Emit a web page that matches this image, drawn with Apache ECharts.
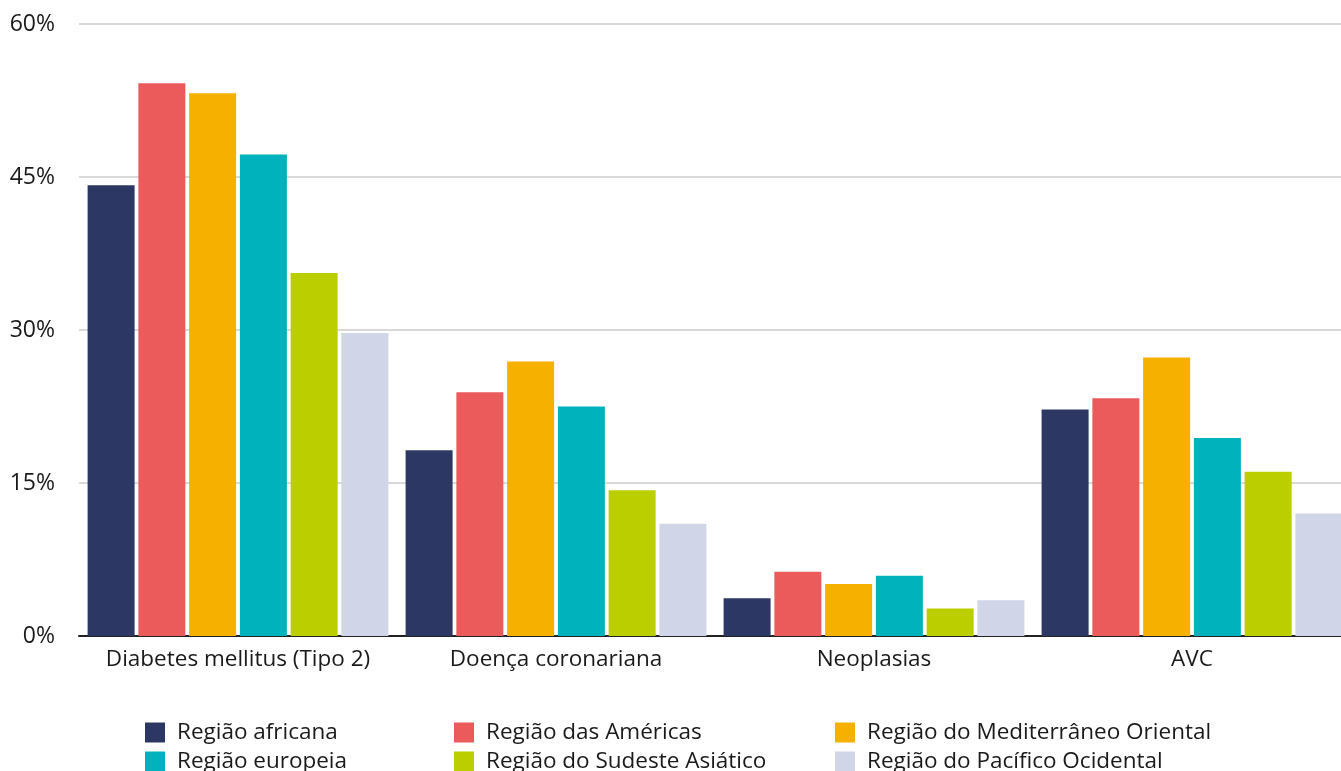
<!DOCTYPE html>
<html>
<head>
<meta charset="utf-8">
<script src="https://cdnjs.cloudflare.com/ajax/libs/echarts/6.0.0/echarts.min.js"></script>
<style>
  html, body { margin: 0; padding: 0; background: #fff; }
  #chart { width: 1341px; height: 771px; }
</style>
</head>
<body>
<div id="chart"></div>
<script>
// categorias e valores (%)
var categories = ['Diabetes mellitus (Tipo 2)', 'Doença coronariana', 'Neoplasias', 'AVC'];
var regions = [
  'Região africana',
  'Região das Américas',
  'Região do Mediterrâneo Oriental',
  'Região europeia',
  'Região do Sudeste Asiático',
  'Região do Pacífico Ocidental'
];
var africana      = [44.2, 18.2, 3.7, 22.2];
var americas      = [54.2, 23.9, 6.3, 23.3];
var mediterraneo  = [53.2, 26.9, 5.1, 27.3];
var europeia      = [47.2, 22.5, 5.9, 19.4];
var sudeste       = [35.6, 14.3, 2.7, 16.1];
var pacifico      = [29.7, 11.0, 3.5, 12.0];
var yTicks = [0, 15, 30, 45, 60];

var colors = ['#2c3863', '#eb5b5c', '#f5b000', '#00b2bc', '#bbce00', '#d0d5e8'];
var values = [africana, americas, mediterraneo, europeia, sudeste, pacifico];
var font = '"Open Sans", "Noto Sans", sans-serif';

var chart = echarts.init(document.getElementById('chart'));

function legendCol(names, left) {
  return {
    data: names,
    orient: 'vertical',
    left: left,
    top: 721,
    height: 120,
    itemWidth: 20,
    itemHeight: 20,
    itemGap: 6,
    icon: 'rect',
    textStyle: { fontSize: 22.5, lineHeight: 20, color: '#1a1a1a', fontFamily: font, padding: [0, 0, 0, 7] },
    padding: 0
  };
}

var option = {
  animation: false,
  color: colors,
  textStyle: { fontFamily: font },
  grid: { left: 79, top: 24, width: 1272, bottom: 135, containLabel: false, outerBoundsMode: 'none' },
  legend: [
    legendCol([regions[0], regions[3]], 145),
    legendCol([regions[1], regions[4]], 454),
    legendCol([regions[2], regions[5]], 835)
  ],
  xAxis: {
    type: 'category',
    data: categories,
    axisLine: { lineStyle: { color: '#222', width: 2 } },
    axisTick: { show: false },
    axisLabel: { interval: 0, fontSize: 22.5, color: '#1a1a1a', margin: 12, fontFamily: font }
  },
  yAxis: {
    type: 'value',
    min: yTicks[0],
    max: yTicks[yTicks.length - 1],
    interval: 15,
    axisLine: { show: false },
    axisTick: { show: false },
    axisLabel: { fontSize: 23, color: '#1a1a1a', margin: 24, fontFamily: font, formatter: '{value}%' },
    splitLine: { lineStyle: { color: '#cccccc', width: 1.5 } }
  },
  series: regions.map(function (name, i) {
    return {
      name: name,
      type: 'bar',
      data: values[i],
      barWidth: 47,
      barGap: '8%'
    };
  })
};

chart.setOption(option);
</script>
</body>
</html>
